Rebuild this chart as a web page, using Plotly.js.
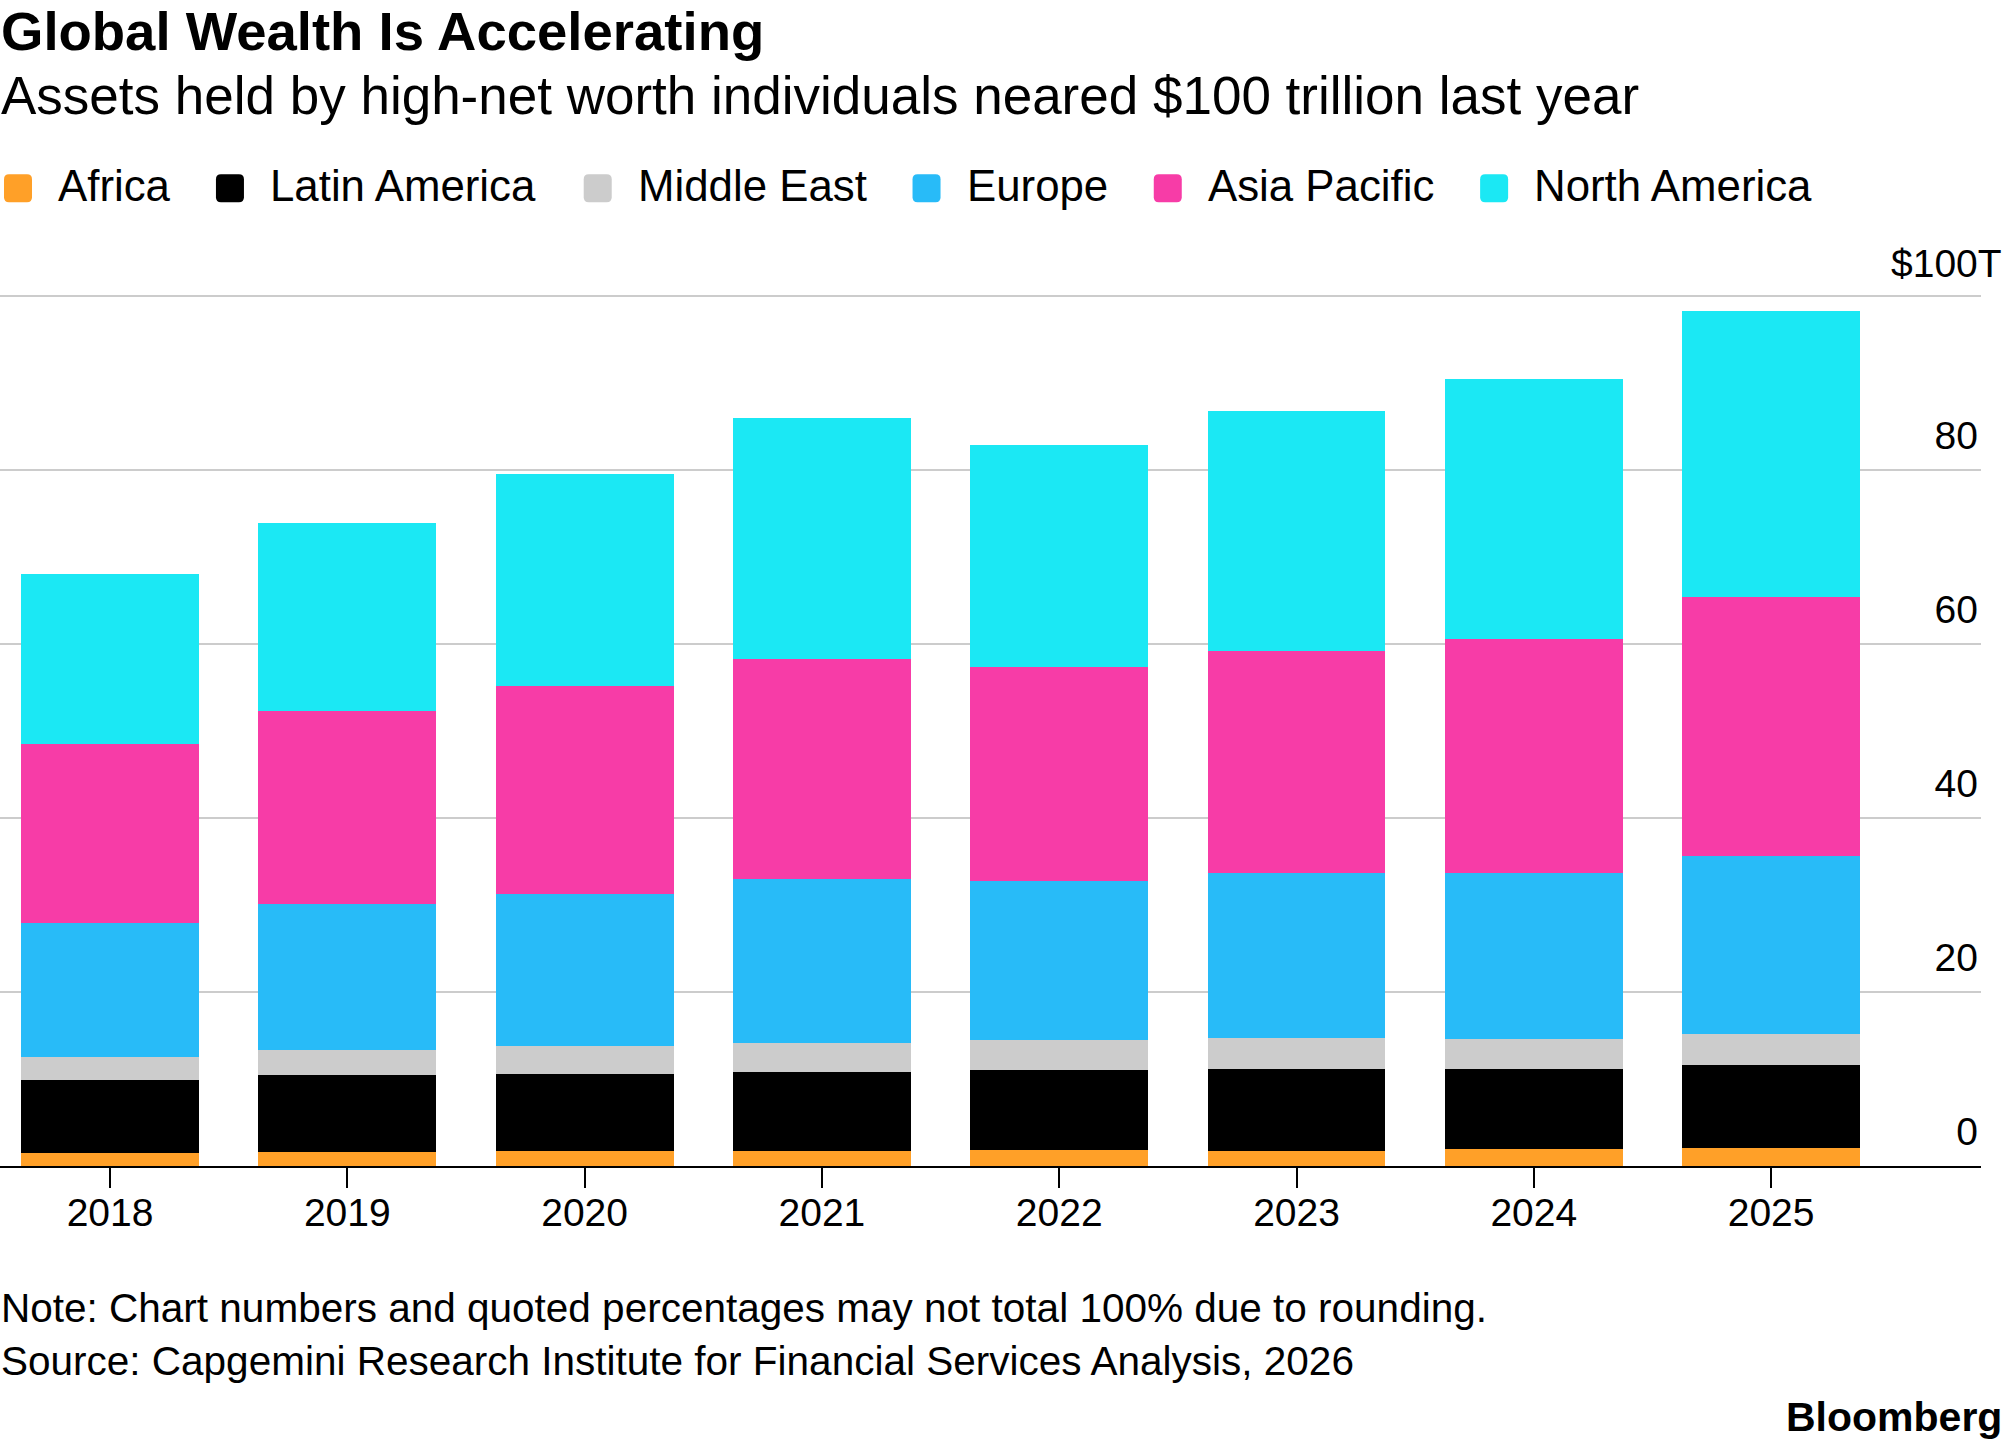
<!DOCTYPE html>
<html>
<head>
<meta charset="utf-8">
<script src="https://cdn.plot.ly/plotly-3.0.1.min.js"></script>
<style>
html,body{margin:0;padding:0;background:#ffffff;}
#chart{width:2005px;height:1446px;}
</style>
</head>
<body>
<div id="chart"></div>
<script>
// ---------------- DATA ----------------
const years = ['2018', '2019', '2020', '2021', '2022', '2023', '2024', '2025'];
const africa       = [1.54, 1.65, 1.72, 1.77, 1.84, 1.77, 1.92, 2.11];
const latinAmerica = [8.35, 8.81, 8.82, 9.00, 9.24, 9.38, 9.23, 9.50];
const middleEast   = [2.60, 2.92, 3.22, 3.41, 3.37, 3.53, 3.49, 3.56];
const europe       = [15.41, 16.70, 17.54, 18.77, 18.27, 18.95, 19.03, 20.51];
const asiaPacific  = [20.60, 22.22, 23.90, 25.29, 24.63, 25.63, 26.87, 29.68];
const northAmerica = [19.55, 21.60, 24.30, 27.70, 25.59, 27.50, 29.90, 32.90];

const seriesNames = ['Africa', 'Latin America', 'Middle East', 'Europe', 'Asia Pacific', 'North America'];
const seriesValues = [africa, latinAmerica, middleEast, europe, asiaPacific, northAmerica];
const seriesColors = ['#FFA028', '#000000', '#CCCCCC', '#28BBF8', '#F73CA7', '#1BE8F4'];

const yTickVals = [0, 20, 40, 60, 80, 100];
const yTickText = ['0', '20', '40', '60', '80', '$100T'];

const titleText = 'Global Wealth Is Accelerating';
const subtitleText = 'Assets held by high-net worth individuals neared $100 trillion last year';
const noteText = 'Note: Chart numbers and quoted percentages may not total 100% due to rounding.';
const sourceText = 'Source: Capgemini Research Institute for Financial Services Analysis, 2026';
const brandText = 'Bloomberg';

// ---------------- LAYOUT GEOMETRY ----------------
const FONT = '"Liberation Sans", Arial, Helvetica, sans-serif';
const W = 2005, H = 1446;
const yMax = 100.25;                 // tiny headroom so the top gridline is drawn
const unitPx = 8.7;
const M = {l: 0, r: 24, b: 280};
M.t = H - M.b - yMax * unitPx;
const plotW = W - M.l - M.r;
const plotH = H - M.t - M.b;
const px = x => (x - M.l) / plotW;          // pixel x -> paper x
const py = y => (H - M.b - y) / plotH;      // pixel y -> paper y

const firstTickPx = 110, pitchPx = 237.3;
const xr0 = -(firstTickPx - M.l) / pitchPx;
const xRange = [xr0, xr0 + plotW / pitchPx];

// ---------------- TRACES ----------------
const traces = seriesNames.map((name, i) => ({
  type: 'bar',
  name: name,
  x: years,
  y: seriesValues[i],
  marker: {color: seriesColors[i], line: {width: 0}},
  showlegend: false,
  hoverinfo: 'skip'
}));

// ---------------- CUSTOM LEGEND ----------------
const canvas = document.createElement('canvas');
const ctx = canvas.getContext('2d');
const legendFontSize = 43.8;
ctx.font = legendFontSize + 'px ' + FONT;

const shapes = [];
const annotations = [];
let cursor = 4;
const sw = 28, swTop = 174, swBot = 202, rad = 5;
seriesNames.forEach((name, i) => {
  const x0 = cursor, x1 = cursor + sw;
  const rx = rad / plotW, ry = rad / plotH;
  const X0 = px(x0), X1 = px(x1), Y0 = py(swTop), Y1 = py(swBot);
  const path = `M ${X0 + rx},${Y0} L ${X1 - rx},${Y0} Q ${X1},${Y0} ${X1},${Y0 - ry} L ${X1},${Y1 + ry} Q ${X1},${Y1} ${X1 - rx},${Y1} L ${X0 + rx},${Y1} Q ${X0},${Y1} ${X0},${Y1 + ry} L ${X0},${Y0 - ry} Q ${X0},${Y0} ${X0 + rx},${Y0} Z`;
  shapes.push({type: 'path', xref: 'paper', yref: 'paper', path: path,
               fillcolor: seriesColors[i], line: {width: 0}, layer: 'above'});
  const tx = cursor + 53;
  annotations.push({xref: 'paper', yref: 'paper', x: px(tx), y: py(185), xanchor: 'left', yanchor: 'middle',
                    text: name, showarrow: false, font: {family: FONT, size: legendFontSize, color: '#000'}, borderpad: 0});
  const tw = ctx.measureText(name).width;
  cursor = tx + tw + 47;
});

// ---------------- TEXT BLOCKS ----------------
function textAnn(text, xPix, yPix, size, bold, anchor) {
  return {xref: 'paper', yref: 'paper', x: px(xPix), y: py(yPix), xanchor: anchor || 'left', yanchor: 'middle',
          text: bold ? '<b>' + text + '</b>' : text, showarrow: false, borderpad: 0,
          font: {family: FONT, size: size, color: '#000'}};
}
annotations.push(textAnn(titleText, 0, 31, 54.5, true));
annotations.push(textAnn(subtitleText, 0, 95, 53, false));
annotations.push(textAnn(noteText, 0, 1308, 40.5, false));
annotations.push(textAnn(sourceText, 0, 1361, 40.5, false));
annotations.push(textAnn(brandText, 2003, 1417, 41, true, 'right'));

// top tick label ($100T) overhangs the right edge of the grid, as in the original
const lastIdx = yTickVals.length - 1;
annotations.push({xref: 'paper', yref: 'y', x: px(2003), y: yTickVals[lastIdx], yshift: 33,
                  xanchor: 'right', yanchor: 'middle', text: yTickText[lastIdx], showarrow: false,
                  borderpad: 0, font: {family: FONT, size: 39, color: '#000'}});

// ---------------- LAYOUT ----------------
const layout = {
  width: W, height: H,
  margin: M,
  paper_bgcolor: '#ffffff',
  plot_bgcolor: '#ffffff',
  font: {family: FONT, color: '#000'},
  barmode: 'stack',
  bargap: 0.25,
  showlegend: false,
  xaxis: {
    type: 'category',
    range: xRange,
    showgrid: false,
    zeroline: false,
    showline: true, linecolor: '#000', linewidth: 2,
    ticks: 'outside', ticklen: 20, tickwidth: 2, tickcolor: '#000',
    ticklabelstandoff: -9,
    tickfont: {family: FONT, size: 39, color: '#000'},
    fixedrange: true
  },
  yaxis: {
    range: [0, yMax],
    side: 'right',
    tickvals: yTickVals,
    ticktext: yTickText.map((t, i) => i === lastIdx ? '' : t),
    ticks: '',
    ticklabelposition: 'inside',
    ticklabeloverflow: 'allow',
    ticklabelshift: -35,
    showgrid: true, gridcolor: '#cccccc', gridwidth: 2,
    zeroline: false, showline: false,
    tickfont: {family: FONT, size: 39, color: '#000'},
    fixedrange: true
  },
  shapes: shapes,
  annotations: annotations
};

Plotly.newPlot('chart', traces, layout, {staticPlot: true, displayModeBar: false});
</script>
</body>
</html>
